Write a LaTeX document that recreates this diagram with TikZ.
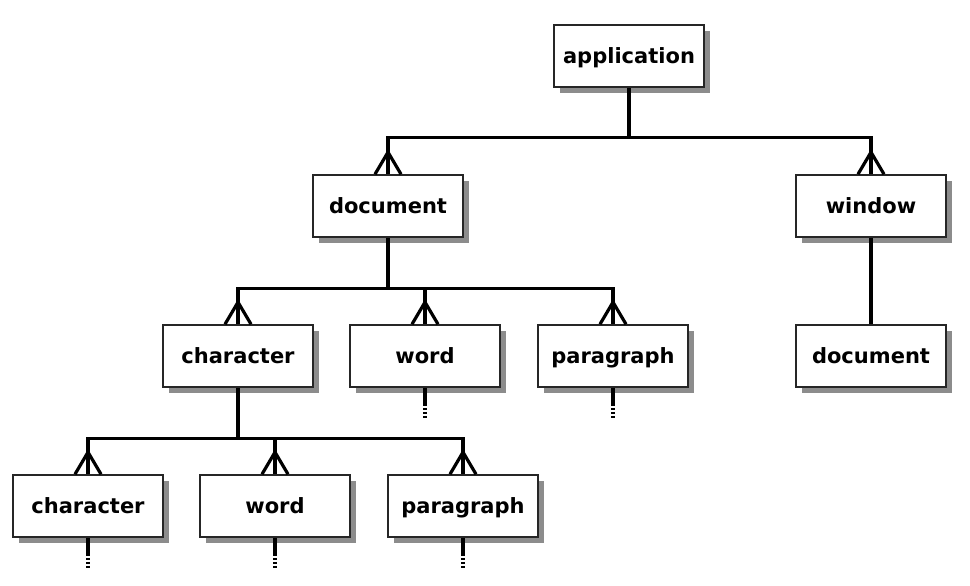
\documentclass[tikz,border=0pt]{standalone}
\usepackage{fontspec}
\setmainfont{DejaVu Sans}
\usetikzlibrary{shadows}
\begin{document}
\begin{tikzpicture}[x=1pt,y=-1pt,
  ent/.style={draw=black!85, line width=1.6pt, fill=white, minimum width=150pt, minimum height=62pt, inner sep=0pt,
    text height=17pt, text depth=2pt,
    font=\fontsize{21}{25}\selectfont\bfseries,
    drop shadow={shadow xshift=6pt, shadow yshift=-6pt, fill=black!45, opacity=1}},
  link/.style={line width=3.2pt, black},
  stub/.style={line width=3.2pt, black, dash pattern=on 2pt off 2pt}]
\useasboundingbox (0,0) rectangle (970,586);
\node[ent] (app)  at (629,56)  {application};
\node[ent] (doc1) at (388,206) {document};
\node[ent] (win)  at (871,206) {window};
\node[ent] (chr)  at (238,356) {character};
\node[ent] (wrd)  at (425,356) {word};
\node[ent] (par)  at (613,356) {paragraph};
\node[ent] (doc2) at (871,356) {document};
\node[ent] (chrb) at (88,506)  {character};
\node[ent] (wrdb) at (275,506) {word};
\node[ent] (parb) at (463,506) {paragraph};
% tree connectors
\draw[link] (app.south) -- ++(0,50) coordinate (b1) -| (doc1.north);
\draw[link] (b1) -| (win.north);
\draw[link] (doc1.south) -- ++(0,51) coordinate (b2) -| (chr.north);
\draw[link] (b2) -| (wrd.north);
\draw[link] (b2) -| (par.north);
\draw[link] (chr.south) -- ++(0,51) coordinate (b3) -| (chrb.north);
\draw[link] (b3) -| (wrdb.north);
\draw[link] (b3) -| (parb.north);
\draw[link] (win.south) -- (doc2.north);
% crow's feet
\foreach \n in {doc1,win,chr,wrd,par,chrb,wrdb,parb}{
  \draw[link] ([yshift=22pt]\n.north) -- ([xshift=-13pt]\n.north);
  \draw[link] ([yshift=22pt]\n.north) -- ([xshift=13pt]\n.north);
}
% open-ended stubs
\foreach \n in {wrd,par,chrb,wrdb,parb}{
  \draw[link] (\n.south) -- ++(0,16) coordinate (\n-s);
  \draw[stub] (\n-s) -- ++(0,15) coordinate (\n-e);
}
\end{tikzpicture}
\end{document}
